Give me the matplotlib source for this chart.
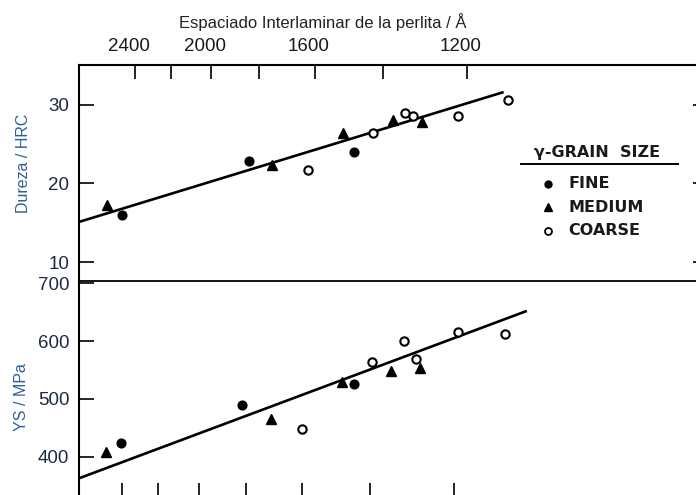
import matplotlib
matplotlib.use("Agg")
import matplotlib.pyplot as plt
from matplotlib.lines import Line2D
import numpy as np

# ---------------- data ----------------
# pearlite interlamellar spacing (Angstrom) and measured property
spacing_hrc = [2491, 2402, 1788, 1704, 1582, 1476, 1443, 1391, 1340, 1311, 1292, 1271, 1192, 1094]
hrc = [17.3, 16.0, 22.8, 22.3, 21.7, 26.4, 24.0, 26.4, 28.1, 29.0, 28.6, 27.8, 28.6, 30.6]
grain_hrc = ["M", "F", "F", "M", "C", "M", "F", "C", "M", "C", "C", "M", "C", "C"]

spacing_ys = [2497, 2403, 1814, 1707, 1601, 1478, 1445, 1395, 1345, 1314, 1285, 1276, 1192, 1099]
ys = [408, 424, 490, 465, 448, 529, 525, 564, 548, 600, 569, 553, 616, 612]
grain_ys = ["M", "F", "F", "M", "C", "M", "F", "C", "M", "C", "C", "M", "C", "C"]

# regression lines (end points)
fit_hrc_spacing = [2680, 1102]
fit_hrc = [15.1, 31.6]
fit_ys_spacing = [2680, 1060]
fit_ys = [363, 652]

# axis ticks
tick_spacing = [2400, 2200, 2000, 1800, 1600, 1400, 1200]
top_label_spacing = [2400, 2000, 1600, 1200]
top_labels = ["2400", "2000", "1600", "1200"]
hrc_ticks = [10, 20, 30]
ys_ticks = [400, 500, 600, 700]

legend_keys = ["F", "M", "C"]
legend_names = ["FINE", "MEDIUM", "COARSE"]


def inv_sqrt(s):
    return 1000.0 / np.sqrt(np.asarray(s, dtype=float))


# ---------------- figure ----------------
W, H = 696, 495
fig = plt.figure(figsize=(W / 100, H / 100), dpi=100)


def box(l, t, r, b):
    return [l / W, 1 - b / H, (r - l) / W, (b - t) / H]


ax1 = fig.add_axes(box(79, 65, 700, 281))
ax2 = fig.add_axes(box(79, 281, 700, 498))

tick_color = "#1c2a48"
label_color = "#2f5f98"
tick_font = "Liberation Sans"

styles = {
    "F": dict(marker="o", mfc="black", mec="black", ms=6.3, mew=1.0),
    "M": dict(marker="^", mfc="black", mec="black", ms=7.0, mew=1.0),
    "C": dict(marker="o", mfc="white", mec="black", ms=6.0, mew=1.5),
}

for ax, sp, vals, gr, fs, fv in [
    (ax1, spacing_hrc, hrc, grain_hrc, fit_hrc_spacing, fit_hrc),
    (ax2, spacing_ys, ys, grain_ys, fit_ys_spacing, fit_ys),
]:
    ax.plot(inv_sqrt(fs), fv, color="black", lw=1.9, solid_capstyle="butt", zorder=2)
    x = inv_sqrt(sp)
    for k in ["F", "M", "C"]:
        idx = [i for i, g in enumerate(gr) if g == k]
        ax.plot(x[idx], np.asarray(vals)[idx], ls="none", zorder=3, **styles[k])
    ax.set_xlim(19.32, 35.12)
    ax.set_facecolor("none")

ax1.set_ylim(7.60, 35.04)
ax2.set_ylim(329.1, 703.6)

# spines
for ax in (ax1, ax2):
    ax.spines["left"].set_linewidth(1.5)
ax1.spines["top"].set_linewidth(1.5)
ax1.spines["bottom"].set_linewidth(1.3)
ax1.spines["right"].set_linewidth(1.3)
ax2.spines["top"].set_visible(False)

# top panel ticks
ax1.set_yticks(hrc_ticks)
ax1.set_yticklabels([str(t) for t in hrc_ticks], fontfamily=tick_font, fontsize=13.5, color=tick_color)
ax1.tick_params(axis="y", which="major", direction="in", length=11, width=1.2, pad=7,
                right=True, labelright=False)
ax1.tick_params(axis="y", which="major", right=True, length=11)
ax1.xaxis.set_ticks_position("top")
ax1.set_xticks(inv_sqrt(tick_spacing) + 0.33)
ax1.set_xticklabels([])
ax1.tick_params(axis="x", which="major", direction="in", length=10, width=1.2, top=True, bottom=False)

# shorter right-hand ticks of the top panel
for t in ax1.yaxis.get_major_ticks():
    t.tick2line.set_markersize(5)

# top labels (spacing, Angstrom)
sec = ax1.secondary_xaxis("top")
sec.set_xticks(inv_sqrt(top_label_spacing) + 0.17)
sec.set_xticklabels(top_labels, fontfamily=tick_font, fontsize=13.5, color="#1a1a1a")
sec.tick_params(length=0, pad=7)
sec.spines["top"].set_visible(False)

# bottom panel ticks
ax2.set_yticks(ys_ticks)
ax2.set_yticklabels([str(t) for t in ys_ticks], fontfamily=tick_font, fontsize=13.5, color=tick_color)
ax2.tick_params(axis="y", direction="in", length=11, width=1.2, pad=7)
ax2.set_xticks(inv_sqrt(tick_spacing))
ax2.set_xticklabels([])
ax2.tick_params(axis="x", direction="in", length=11, width=1.2)

# axis titles
fig.text(323 / W, 1 - 22 / H, "Espaciado Interlaminar de la perlita / Å",
         ha="center", va="center", fontsize=12, fontfamily=tick_font, color="#222222")
fig.text(24 / W, 1 - 163 / H, "Dureza / HRC", rotation=90, ha="center", va="center",
         fontsize=11.5, fontfamily=tick_font, color=label_color)
fig.text(22 / W, 1 - 397 / H, "YS / MPa", rotation=90, ha="center", va="center",
         fontsize=11.5, fontfamily=tick_font, color=label_color)

# legend (manual)
fig.text(597 / W, 1 - 153 / H, "γ-GRAIN  SIZE", ha="center", va="center",
         fontsize=11.5, fontweight="bold", fontfamily="DejaVu Sans", color="#1a1a1a")
fig.add_artist(Line2D([521 / W, 678 / W], [1 - 163.5 / H, 1 - 163.5 / H],
                      transform=fig.transFigure, color="black", lw=1.4))
leg_styles = {
    "F": dict(marker="o", mfc="black", mec="black", ms=5.0, mew=1.0),
    "M": dict(marker="^", mfc="black", mec="black", ms=6.0, mew=1.0),
    "C": dict(marker="o", mfc="white", mec="black", ms=5.0, mew=1.3),
}
for i, (k, name) in enumerate(zip(legend_keys, legend_names)):
    yy = 1 - (183.5 + 23.5 * i) / H
    fig.add_artist(Line2D([548 / W], [yy], transform=fig.transFigure, ls="none", **leg_styles[k]))
    fig.text(568 / W, yy, name, ha="left", va="center", fontsize=11.5, fontweight="bold",
             fontfamily="DejaVu Sans", color="#1a1a1a")

fig.savefig("out.png", dpi=100)
